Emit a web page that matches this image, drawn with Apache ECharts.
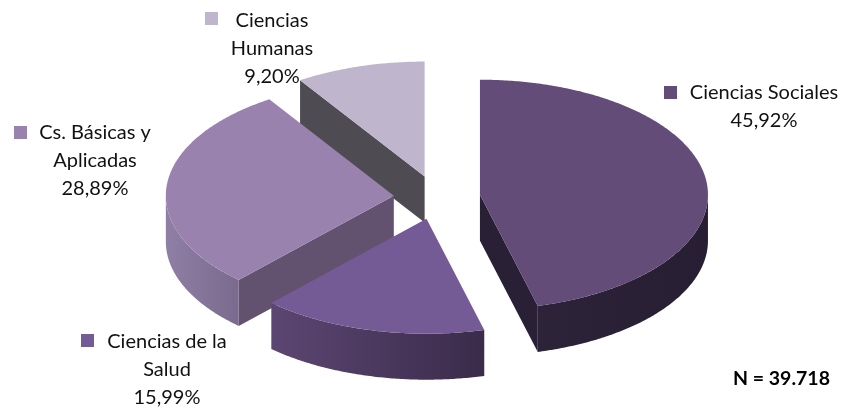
<!DOCTYPE html>
<html>
<head>
<meta charset="utf-8">
<style>html,body{margin:0;padding:0;background:#fff}#chart{width:845px;height:411px}</style>
<script src="https://cdn.jsdelivr.net/npm/echarts@6/dist/echarts.min.js"></script>
</head>
<body>
<div id="chart"></div>
<script>
// clockwise from 12 o'clock
const names = ['Ciencias Sociales', 'Ciencias de la Salud', 'Cs. Básicas y Aplicadas', 'Ciencias Humanas']
const labelLines = [['Ciencias Sociales'], ['Ciencias de la', 'Salud'], ['Cs. Básicas y', 'Aplicadas'], ['Ciencias', 'Humanas']]
const values = [45.92, 15.99, 28.89, 9.20]
const total = 39718

const topColors = ['#634c78', '#755b95', '#9983ae', '#bfb5cc']
const wallColors = ['#2a2036', '#4a3860', '#625270', '#4f4b53']
const rimColors = [['#2d2339', '#271e33'], ['#5c4672', '#3a2b4a'], ['#8f7fa5', '#7a6a8d'], ['#4f4b53', '#4f4b53']]

// pie geometry, tilted so it reads as an ellipse
const cx = 437, cy = 197.5, rx = 228, ry = 115, depth = 46, explode = 0.19
// label centre x, first line y, marker x, marker y
const labelPos = [[764, 93, 664, 86], [167, 342, 81, 334], [95, 133, 14, 126], [272, 21, 205, 12]]

const sum = values.reduce((a, b) => a + b, 0)
const toAngle = v => v / sum * Math.PI * 2

function ring(x, y, a, b, dy) {
    const pts = []
    const n = Math.max(2, Math.ceil((b - a) / 0.01))
    for (let i = 0; i <= n; i++) {
        const t = a + (b - a) * i / n
        pts.push([x + rx * Math.sin(t), y - ry * Math.cos(t) + dy])
    }
    return pts
}

function wall(x, y, t, color, z) {
    const ex = x + rx * Math.sin(t), ey = y - ry * Math.cos(t)
    return {
        type: 'polygon', z2: z, silent: true,
        shape: {points: [[x, y], [ex, ey], [ex, ey + depth], [x, y + depth]]},
        style: {fill: color}
    }
}

function renderSlice(params, api) {
    const i = params.dataIndex
    let start = 0
    for (let k = 0; k < i; k++) start += toAngle(values[k])
    const end = start + toAngle(api.value(0))
    const mid = (start + end) / 2
    const x = cx + explode * rx * Math.sin(mid)
    const y = cy - explode * ry * Math.cos(mid)
    // slices further back are painted first
    const z = Math.round(-Math.cos(mid) * 10) * 10 + 100
    const children = []

    if (Math.sin(start) < -0.001) children.push(wall(x, y, start, wallColors[i], z))
    if (Math.sin(end) > 0.001) children.push(wall(x, y, end, wallColors[i], z))

    // outer rim only shows on the front half
    const a = Math.max(start, Math.PI / 2), b = Math.min(end, Math.PI * 1.5)
    if (b > a) {
        const lower = ring(x, y, a, b, depth), upper = ring(x, y, a, b, 0).reverse()
        // gradient runs left to right on screen
        const goesLeft = lower[0][0] > lower[lower.length - 1][0]
        children.push({
            type: 'polygon', z2: z + 1, silent: true,
            shape: {points: lower.concat(upper)},
            style: {
                fill: new echarts.graphic.LinearGradient(0, 0, 1, 0, [
                    {offset: 0, color: rimColors[i][goesLeft ? 0 : 1]},
                    {offset: 1, color: rimColors[i][goesLeft ? 1 : 0]}
                ])
            }
        })
    }

    children.push({
        type: 'polygon', z2: z + 2,
        shape: {points: [[x, y]].concat(ring(x, y, start, end, 0))},
        style: {fill: topColors[i]}
    })

    const pos = labelPos[i]
    const pct = api.value(0).toFixed(2).replace('.', ',') + '%'
    children.push({
        type: 'rect', z2: 200,
        shape: {x: pos[2], y: pos[3], width: 13, height: 13},
        style: {fill: topColors[i]}
    })
    children.push({
        type: 'text', z2: 201,
        style: {
            text: labelLines[i].concat(pct).join('\n'),
            x: pos[0], y: pos[1] - 14,
            align: 'center', verticalAlign: 'top',
            font: '20px Lato', lineHeight: 28, fill: '#111'
        }
    })
    return {type: 'group', children}
}

const chart = echarts.init(document.getElementById('chart'))
chart.setOption({
    animation: false,
    backgroundColor: '#fff',
    series: [{
        type: 'custom',
        coordinateSystem: 'none',
        renderItem: renderSlice,
        data: values.map((v, i) => ({name: names[i], value: [v]}))
    }],
    graphic: [{
        type: 'text', left: 733, top: 369,
        style: {text: 'N = ' + total.toLocaleString('de-DE'), font: 'bold 19.5px Lato', fill: '#000'}
    }]
})
</script>
</body>
</html>
